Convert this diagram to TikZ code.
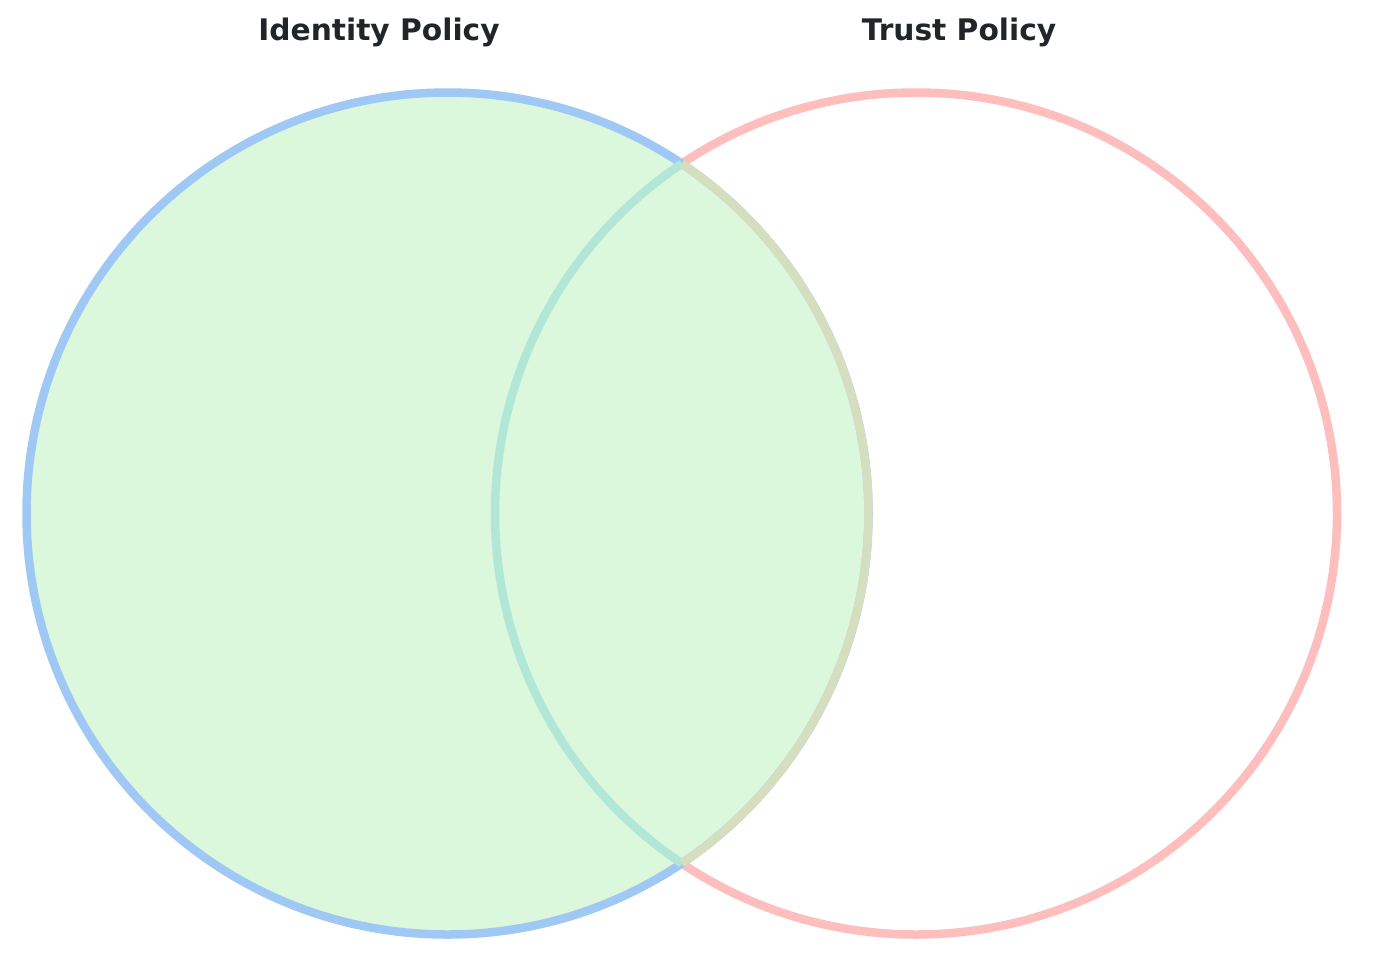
\documentclass[tikz,border=0pt]{standalone}
\usepackage{fontspec}
\setmainfont{Liberation Sans}
\newfontfamily\titlefont{DejaVu Sans}
\usepackage{xcolor}

\definecolor{idfill}{RGB}{220,248,220}
\definecolor{idline}{RGB}{160,200,245}
\definecolor{trline}{RGB}{255,190,190}
\definecolor{lensleft}{RGB}{178,230,214}
\definecolor{lensright}{RGB}{214,222,192}
\definecolor{titletext}{HTML}{212529}

\tikzset{
  ring/.style={line width=8.5pt},
  title/.style={anchor=base, text=titletext, font=\titlefont\bfseries\fontsize{29.7}{34}\selectfont}
}

\begin{document}
\begin{tikzpicture}[x=1pt,y=-1pt]
                \useasboundingbox (0,0) rectangle (1375,959);
                \coordinate (idc) at (447.5,513.5);
                \coordinate (trc) at (916,513.5);

                \draw[ring, trline] (trc) circle (421);
                \filldraw[ring, draw=idline, fill=idfill] (idc) circle (421);

                % overlap
                \draw[ring, lensleft] ([shift={(123.8:421)}]trc) arc (123.8:236.2:421);
                \draw[ring, lensright] ([shift={(-56.2:421)}]idc) arc (-56.2:56.2:421);

                \node[title] (idtitle) at (379,40) {Identity Policy};
                \node[title] (trtitle) at (959,40) {Trust Policy};
            \end{tikzpicture}
\end{document}
